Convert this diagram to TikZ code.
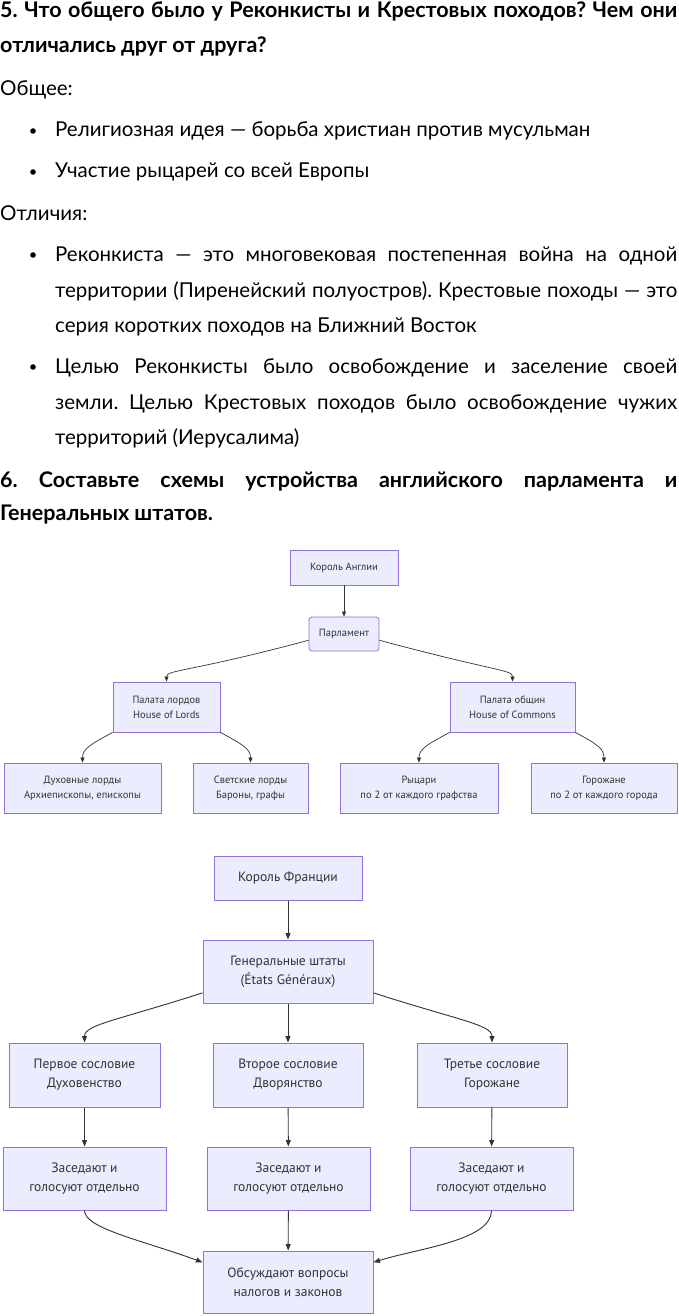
\documentclass[tikz,border=0pt]{standalone}
\usepackage{fontspec}
\setmainfont{Lato}
\newfontfamily\chartfont{PT Sans}
\usetikzlibrary{arrows.meta}
\definecolor{boxfill}{HTML}{ECECFF}
\definecolor{boxline}{HTML}{9370DB}
\definecolor{wire}{HTML}{333333}
\frenchspacing

\begin{document}
\begin{tikzpicture}[
    x=1pt, y=-1pt,
    bodytext/.style={anchor=base west, inner sep=0pt,
        font=\fontsize{20.5}{24}\selectfont},
    headtext/.style={bodytext, font=\fontsize{21.5}{24}\selectfont\bfseries},
    engbox/.style={draw=boxline, fill=boxfill, line width=0.8pt, text=wire,
        align=center, inner sep=0pt, font=\chartfont\fontsize{10.5}{15}\selectfont},
    frbox/.style={engbox, line width=1pt, font=\chartfont\fontsize{13.5}{19}\selectfont},
    conn1/.style={draw=wire, line width=0.7pt, -{Triangle[length=5pt, width=4pt]}},
    conn2/.style={draw=wire, line width=0.9pt, -{Triangle[length=6.5pt, width=5pt]}},
]

% --- Page ---
\fill[white] (0,0) rectangle (679,1316);
\useasboundingbox (0,0) rectangle (679,1316);

% --- Question 5 ---
\node[headtext] (q5a) at (0, 17.5)
    {\makebox[677pt][s]{5. Что общего было у Реконкисты и Крестовых походов? Чем они}};
\node[headtext] (q5b) at (0, 53) {отличались друг от друга?};

\node[bodytext] (common) at (0, 96) {Общее:};
\node[bodytext] (itemA) at (55, 137) {Религиозная идея — борьба христиан против мусульман};
\node[bodytext] (itemB) at (55, 178) {Участие рыцарей со всей Европы};

\node[bodytext] (diff) at (0, 220) {Отличия:};
\node[bodytext] (itemC1) at (55, 261)
    {\makebox[622pt][s]{Реконкиста — это многовековая постепенная война на одной}};
\node[bodytext] (itemC2) at (55, 297)
    {\makebox[622pt][s]{территории (Пиренейский полуостров). Крестовые походы — это}};
\node[bodytext] (itemC3) at (55, 332) {серия коротких походов на Ближний Восток};
\node[bodytext] (itemD1) at (55, 373)
    {\makebox[622pt][s]{Целью Реконкисты было освобождение и заселение своей}};
\node[bodytext] (itemD2) at (55, 409)
    {\makebox[622pt][s]{земли. Целью Крестовых походов было освобождение чужих}};
\node[bodytext] (itemD3) at (55, 444) {территорий (Иерусалима)};

% --- Bullets ---
\foreach \y in {131, 172, 255, 367}
    \fill (33, \y) circle (2.8pt);

% --- Question 6 ---
\node[headtext] (q6a) at (0, 487)
    {\makebox[677pt][s]{6. Составьте схемы устройства английского парламента и}};
\node[headtext] (q6b) at (0, 520) {Генеральных штатов.};

% --- English parliament ---
\node[engbox, minimum width=108pt, minimum height=35pt] (kingEng) at (344, 567.5) {Король Англии};
\node[engbox, rounded corners=3pt, minimum width=70pt, minimum height=34pt] (parl) at (344, 634) {Парламент};
\node[engbox, minimum width=107pt, minimum height=50pt] (lords) at (166.5, 707) {Палата лордов\\House of Lords};
\node[engbox, minimum width=125pt, minimum height=50pt] (commons) at (512.5, 707) {Палата общин\\House of Commons};
\node[engbox, minimum width=157pt, minimum height=50pt] (spiritual) at (82.5, 788) {Духовные лорды\\Архиепископы, епископы};
\node[engbox, minimum width=115pt, minimum height=50pt] (temporal) at (250.5, 788) {Светские лорды\\Бароны, графы};
\node[engbox, minimum width=158pt, minimum height=50pt] (knights) at (419, 788) {Рыцари\\по 2 от каждого графства};
\node[engbox, minimum width=146pt, minimum height=50pt] (burghers) at (604, 788) {Горожане\\по 2 от каждого города};

\draw[conn1] (kingEng) -- (parl);
\draw[conn1] (parl.190) .. controls +(-119, 32) and +(0, -12) .. (lords.north);
\draw[conn1] (parl.350) .. controls +(119, 32) and +(0, -12) .. (commons.north);
\draw[conn1] (lords.south west) .. controls +(-22, 12) and +(0, -14) .. (spiritual.north);
\draw[conn1] (lords.south east) .. controls +(22, 12) and +(0, -14) .. (temporal.north);
\draw[conn1] (commons.south west) .. controls +(-22, 12) and +(0, -14) .. (knights.north);
\draw[conn1] (commons.south east) .. controls +(22, 12) and +(0, -14) .. (burghers.north);

% --- Estates General ---
\node[frbox, minimum width=148pt, minimum height=44pt] (kingFr) at (288, 878) {Король Франции};
\node[frbox, minimum width=170pt, minimum height=63pt] (estates) at (288, 971.5) {Генеральные штаты\\(États Généraux)};
\node[frbox, minimum width=151pt, minimum height=64pt] (first) at (84.5, 1075) {Первое сословие\\Духовенство};
\node[frbox, minimum width=150pt, minimum height=64pt] (second) at (288, 1075) {Второе сословие\\Дворянство};
\node[frbox, minimum width=150pt, minimum height=64pt] (third) at (492, 1075) {Третье сословие\\Горожане};
\node[frbox, minimum width=163pt, minimum height=63pt] (sitA) at (84.5, 1178.5) {Заседают и\\голосуют отдельно};
\node[frbox, minimum width=163pt, minimum height=63pt] (sitB) at (288.5, 1178.5) {Заседают и\\голосуют отдельно};
\node[frbox, minimum width=163pt, minimum height=63pt] (sitC) at (491.5, 1178.5) {Заседают и\\голосуют отдельно};
\node[frbox, minimum width=170pt, minimum height=62pt] (discuss) at (288, 1282) {Обсуждают вопросы\\налогов и законов};

\draw[conn2] (kingFr) -- (estates);
\draw[conn2] (estates.194) .. controls +(-83, 27) and +(0, -18) .. (first.north);
\draw[conn2] (estates) -- (second);
\draw[conn2] (estates.346) .. controls +(83, 27) and +(0, -18) .. (third.north);
\draw[conn2] (first) -- (sitA);
\draw[conn2] (second) -- (sitB);
\draw[conn2] (third) -- (sitC);
\draw[conn2] (sitA.south) .. controls +(0, 18) and +(-60, -22) .. (discuss.167);
\draw[conn2] (sitB) -- (discuss);
\draw[conn2] (sitC.south) .. controls +(0, 30) and +(45, -14) .. (discuss.13);

\end{tikzpicture}
\end{document}
